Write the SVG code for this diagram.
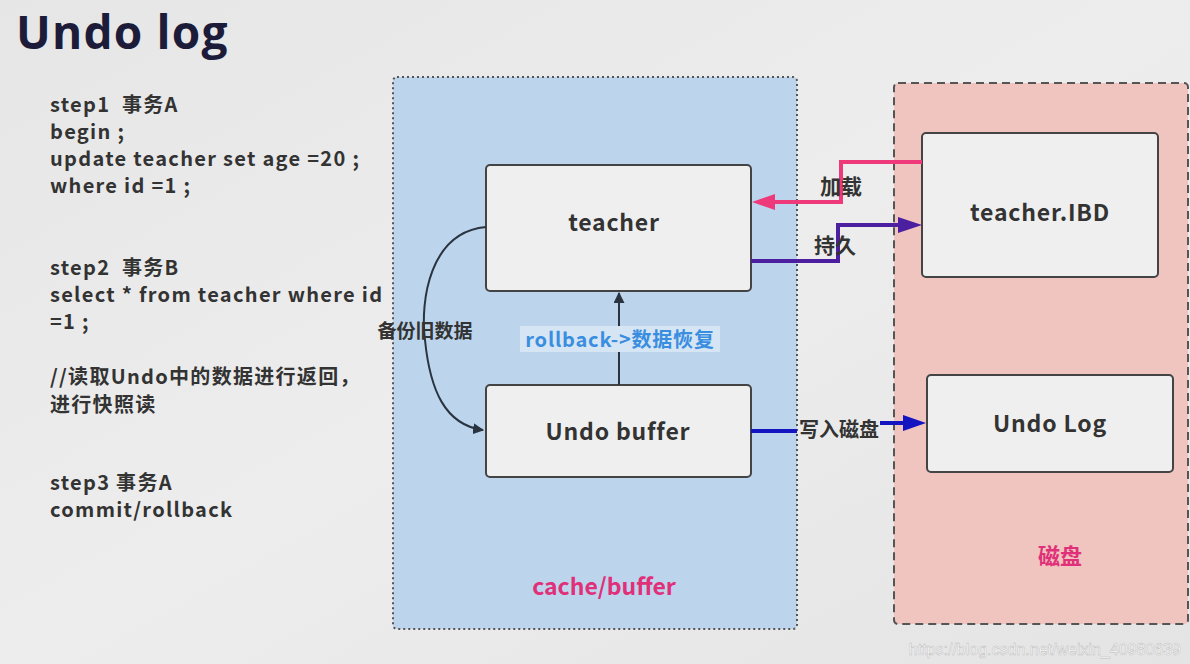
<svg xmlns="http://www.w3.org/2000/svg" width="1190" height="664" viewBox="0 0 1190 664">
<defs>
<style>
.t{font-family:"Noto Sans CJK SC","Open Sans",sans-serif;font-weight:bold;fill:#333;}
.lt{font-size:20px;letter-spacing:1.3px;}
.node{fill:#efefef;stroke:#444;stroke-width:2;}
.nl{font-size:23px;text-anchor:middle;fill:#333;letter-spacing:0.8px;}
</style>
<marker id="aDark" viewBox="0 0 10 10" refX="9" refY="5" markerWidth="11" markerHeight="11" markerUnits="userSpaceOnUse" orient="auto"><path d="M0,0 L10,5 L0,10 z" fill="#2a3440"/></marker>
<linearGradient id="bg" x1="0" y1="0" x2="1" y2="1">
<stop offset="0" stop-color="#e6e6e6"/><stop offset="0.5" stop-color="#ededed"/><stop offset="1" stop-color="#e4e4e4"/>
</linearGradient>
</defs>
<rect width="1190" height="664" fill="url(#bg)"/>
<text x="16" y="49" font-family="'Open Sans','Noto Sans',sans-serif" font-weight="bold" font-size="46" letter-spacing="1.2" fill="#1c1c3a">Undo log</text>
<g id="steps" class="t lt">
<text x="50" y="112" xml:space="preserve">step1  事务A</text>
<text x="50" y="139">begin ;</text>
<text x="50" y="166">update teacher set age =20 ;</text>
<text x="50" y="193">where id =1 ;</text>
<text x="50" y="275" xml:space="preserve">step2  事务B</text>
<text x="50" y="302">select * from teacher where id</text>
<text x="50" y="329">=1 ;</text>
<text x="50" y="384">//读取Undo中的数据进行返回，</text>
<text x="50" y="412">进行快照读</text>
<text x="50" y="490">step3 事务A</text>
<text x="50" y="517">commit/rollback</text>
</g>
<g id="cache">
<rect x="393" y="77" width="404" height="552" rx="4" fill="#bcd5ec" stroke="#555" stroke-width="2" stroke-dasharray="2 3"/>
<text class="t" x="604" y="595" font-size="23" text-anchor="middle" style="fill:#e0307a">cache/buffer</text>
</g>
<g id="disk">
<rect x="894" y="83" width="294" height="541" rx="4" fill="#f0c4bf" stroke="#555" stroke-width="2" stroke-dasharray="8 5"/>
<text class="t" x="1060" y="564" font-size="22" text-anchor="middle" style="fill:#e0307a">磁盘</text>
</g>
<g id="teacher">
<rect class="node" x="486" y="165" width="265" height="126" rx="4"/>
<text class="t nl" x="614" y="231">teacher</text>
</g>
<g id="undobuffer">
<rect class="node" x="486" y="385" width="265" height="92" rx="4"/>
<text class="t nl" x="618" y="440">Undo buffer</text>
</g>
<g id="teacherIBD">
<rect class="node" x="922" y="133" width="236" height="144" rx="4"/>
<text class="t nl" x="1040" y="221">teacher.IBD</text>
</g>
<g id="undolog">
<rect class="node" x="927" y="375" width="246" height="97" rx="4"/>
<text class="t nl" x="1050" y="432">Undo Log</text>
</g>
<g id="connectors">
<path d="M486,227 C430,232 420,300 425,340 C430,390 445,425 483,430" fill="none" stroke="#2a3440" stroke-width="2" marker-end="url(#aDark)"/>
<line x1="619" y1="385" x2="619" y2="293" stroke="#2a3440" stroke-width="2" marker-end="url(#aDark)"/>
<rect x="520" y="326" width="200" height="26" fill="#d6e5f3"/>
<text class="t" x="620" y="347" font-size="20" letter-spacing="0.8" text-anchor="middle" style="fill:#3a8ee0">rollback-&gt;数据恢复</text>
<text class="t" x="425" y="338" font-size="19" text-anchor="middle">备份旧数据</text>
<path d="M922,162 L841,162 L841,202 L772,202" fill="none" stroke="#ee3a7a" stroke-width="4"/>
<path d="M752,202 L775,194 L775,210 z" fill="#ee3a7a"/>
<text class="t" x="841" y="194" font-size="21" text-anchor="middle">加载</text>
<path d="M751,261 L838,261 L838,225 L900,225" fill="none" stroke="#4b1fa0" stroke-width="4"/>
<path d="M922,225 L898,217 L898,233 z" fill="#4b1fa0"/>
<text class="t" x="835" y="253" font-size="21" text-anchor="middle">持久</text>
<path d="M751,431 L797,431" fill="none" stroke="#1414c0" stroke-width="4"/>
<path d="M880,423 L905,423" fill="none" stroke="#1414c0" stroke-width="4"/>
<path d="M926,423 L903,415 L903,431 z" fill="#1414c0"/>
<text class="t" x="839" y="437" font-size="20" text-anchor="middle">写入磁盘</text>
</g>
<text x="1181" y="655" font-family="'Liberation Sans',Arial,sans-serif" font-size="16" text-anchor="end" fill="#ffffff" stroke="#bbbbbb" stroke-width="0.5">https://blog.csdn.net/weixin_40980639</text>
</svg>
